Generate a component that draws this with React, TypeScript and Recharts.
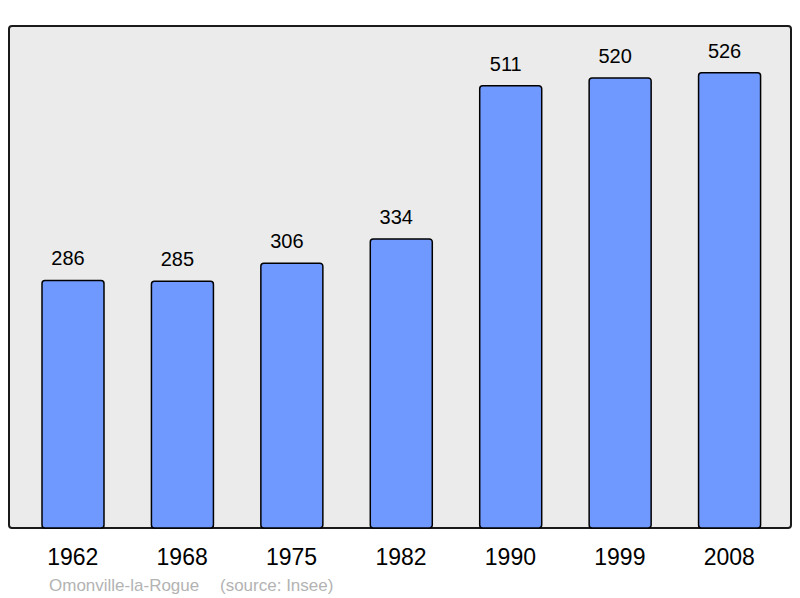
import React from "react";
import { BarChart, Bar, XAxis, YAxis, LabelList } from "recharts";

const years: string[] = ["1962", "1968", "1975", "1982", "1990", "1999", "2008"];
const population: number[] = [286, 285, 306, 334, 511, 520, 526];

const data = years.map((year, i) => ({ year, population: population[i] }));

const FONT = '"Liberation Sans", Arial, sans-serif';

const App: React.FC = () => {
  return (
    <div
      style={{
        position: "absolute",
        left: 0,
        top: 0,
        width: 800,
        height: 598,
        background: "#fff",
        fontFamily: FONT,
      }}
    >
      {/* plot frame */}
      <div
        style={{
          position: "absolute",
          left: 8,
          top: 25,
          width: 784,
          height: 504,
          boxSizing: "border-box",
          border: "2px solid #1a1a1a",
          borderRadius: 4,
          background: "#ebebeb",
        }}
      />
      <div style={{ position: "absolute", left: 0, top: 0 }}>
        <BarChart
          width={800}
          height={598}
          data={data}
          margin={{ top: 26, right: 9, bottom: 30, left: 9 }}
          barSize={62}
        >
          <XAxis
            dataKey="year"
            height={40}
            axisLine={false}
            tickLine={false}
            tickSize={0}
            tickMargin={21}
            padding={{ left: 9, right: 7 }}
            tick={{ fontSize: 23, fill: "#000", fontFamily: FONT }}
          />
          <YAxis hide domain={[0, 580]} />
          <Bar
            dataKey="population"
            fill="#7099ff"
            stroke="#000"
            strokeWidth={1.5}
            radius={3}
            isAnimationActive={false}
          >
            <LabelList
              dataKey="population"
              position="top"
              offset={15}
              dx={-5}
              style={{ fontSize: 20, fill: "#000", fontFamily: FONT }}
            />
          </Bar>
        </BarChart>
      </div>
      <div
        style={{
          position: "absolute",
          left: 49,
          top: 577,
          fontSize: 17,
          lineHeight: "17px",
          color: "#b3b3b3",
          whiteSpace: "nowrap",
        }}
      >
        Omonville-la-Rogue
      </div>
      <div
        style={{
          position: "absolute",
          left: 220,
          top: 577,
          fontSize: 17,
          lineHeight: "17px",
          color: "#b3b3b3",
          whiteSpace: "nowrap",
        }}
      >
        (source: Insee)
      </div>
    </div>
  );
};

export default App;
